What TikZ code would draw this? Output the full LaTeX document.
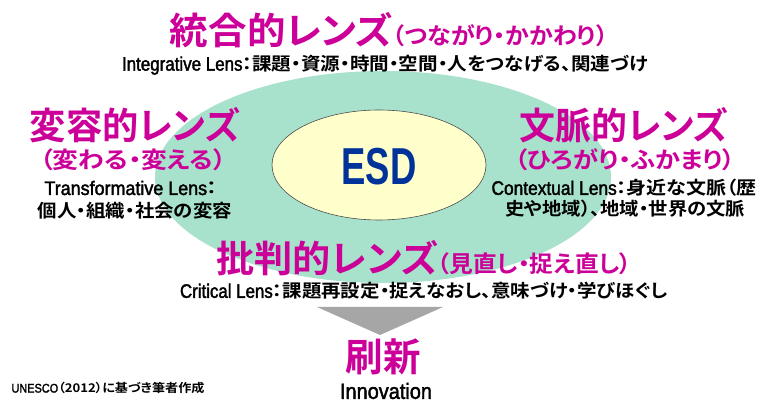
\documentclass[tikz,border=0pt]{standalone}
\usepackage{fontspec}
\usepackage{graphicx}
\usetikzlibrary{shapes.geometric}
\setmainfont{Noto Sans CJK JP}[UprightFont=* Bold, RawFeature=+palt]
\newfontfamily\latin{Liberation Sans}[FakeBold=2]
\newfontfamily\latinb{Liberation Sans}[UprightFont=* Bold]
\definecolor{mag}{RGB}{204,0,153}
\definecolor{lensgreen}{RGB}{168,226,204}
\definecolor{esdyellow}{RGB}{255,255,204}
\definecolor{esdblue}{RGB}{0,51,153}
\definecolor{arrowgray}{RGB}{166,166,166}
\newcommand\fitw[2]{\resizebox{#1}{\height}{#2}}
\newcommand\fs[1]{\fontsize{#1}{#1}\selectfont}
\newcommand\lat[2]{\scalebox{0.8}[1]{\latin\fs{#1}#2}}
\tikzset{
  txt/.style={inner sep=0pt, outer sep=0pt, anchor=center},
  magtxt/.style={txt, text=mag},
  blktxt/.style={txt, text=black},
}
\begin{document}
\begin{tikzpicture}[x=1pt,y=1pt]
\path[use as bounding box, fill=white] (0,0) rectangle (761,-403);
% big lens ellipse
\fill[lensgreen] (383,-177) ellipse [x radius=228, y radius=106];
% ESD ellipse
\node[draw=black!70, line width=0.6pt, fill=esdyellow, ellipse, minimum width=214pt, minimum height=110pt, inner sep=0pt] (esd) at (379,-165) {};
\node[txt, text=esdblue] (esdlabel) at (379,-167) {\fitw{75pt}{\latinb\fs{52}ESD}};
% arrow triangle
\fill[arrowgray] (317,-307) -- (443,-307) -- (380,-335) -- cycle;
% top
\node[magtxt] (integ) at (389,-30) {\fitw{438pt}{\fs{37}統合的レンズ\fs{23}（つながり・かかわり）}};
\node[blktxt] (integd) at (385,-65) {\fitw{526pt}{\fs{18}\lat{19.5}{Integrative Lens}：課題・資源・時間・空間・人をつなげる、関連づけ}};
% left
\node[magtxt] (trans) at (135,-125) {\fitw{210pt}{\fs{37}変容的レンズ}};
\node[magtxt] (transs) at (133,-160) {\fitw{186pt}{\fs{23}（変わる・変える）}};
\node[blktxt] (transd1) at (131,-188) {\fitw{173pt}{\fs{18}\lat{19.5}{Transformative Lens}：}};
\node[blktxt] (transd2) at (135,-211) {\fitw{194pt}{\fs{18}個人・組織・社会の変容}};
% right
\node[magtxt] (cont) at (624,-125) {\fitw{208pt}{\fs{37}文脈的レンズ}};
\node[magtxt] (conts) at (625,-160) {\fitw{221pt}{\fs{23}（ひろがり・ふかまり）}};
\node[blktxt] (contd1) at (624,-188) {\fitw{265pt}{\fs{18}\lat{19.5}{Contextual Lens}：身近な文脈（歴}};
\node[blktxt] (contd2) at (625,-209) {\fitw{240pt}{\fs{18}史や地域）、地域・世界の文脈}};
% bottom
\node[magtxt] (crit) at (424,-258) {\fitw{415pt}{\fs{37}批判的レンズ\fs{23}（見直し・捉え直し）}};
\node[blktxt] (critd) at (424,-291) {\fitw{488pt}{\fs{18}\lat{19.5}{Critical Lens}：課題再設定・捉えなおし、意味づけ・学びほぐし}};
\node[magtxt] (innov) at (383,-357) {\fitw{75pt}{\fs{39}刷新}};
\node[blktxt] (innovd) at (386,-391) {\fitw{92pt}{\lat{22}{Innovation}}};
\node[blktxt] (src) at (108,-388) {\fitw{193pt}{\fs{12}\lat{12.5}{UNESCO}（2012）に基づき筆者作成}};
\end{tikzpicture}
\end{document}
